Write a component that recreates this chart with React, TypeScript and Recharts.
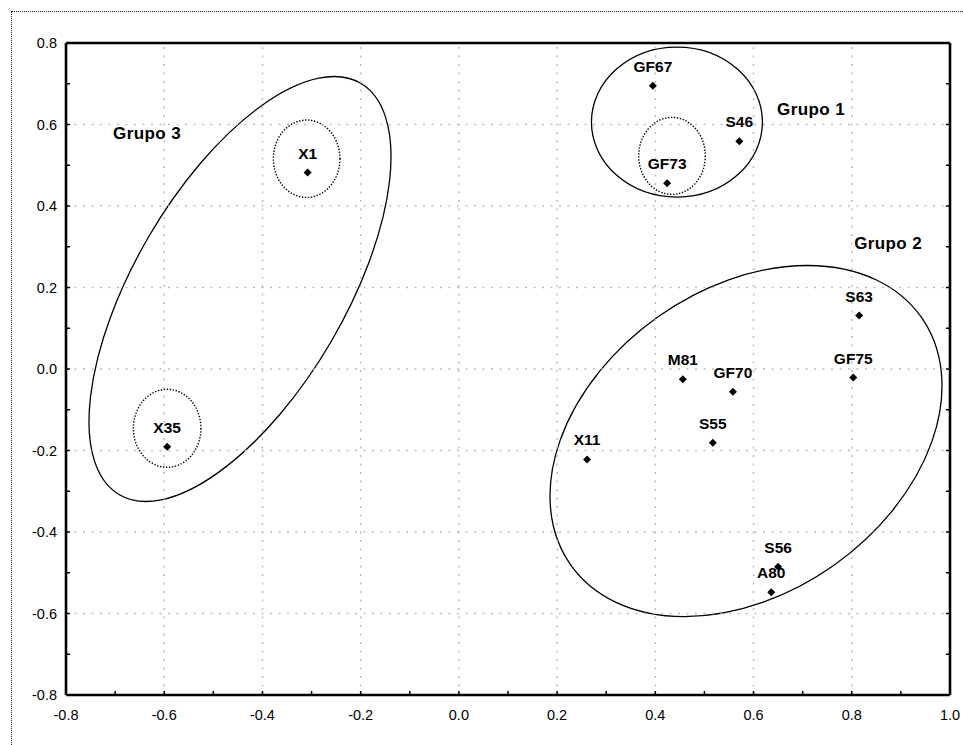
import React from 'react';
import { ScatterChart, Scatter, XAxis, YAxis, ReferenceLine, ReferenceArea, ReferenceDot } from 'recharts';

// Sample scores on the two factor axes
const sampleNames = ['GF67', 'S46', 'GF73', 'X1', 'X35', 'S63', 'GF75', 'M81', 'GF70', 'S55', 'X11', 'S56', 'A80'];
const sampleX = [0.395, 0.571, 0.424, -0.308, -0.594, 0.815, 0.803, 0.456, 0.558, 0.517, 0.261, 0.65, 0.636];
const sampleY = [0.695, 0.559, 0.456, 0.482, -0.191, 0.131, -0.021, -0.025, -0.056, -0.181, -0.222, -0.485, -0.548];

// Axis ticks (every 0.1, labelled every 0.2)
const xTicks = [-0.8, -0.7, -0.6, -0.5, -0.4, -0.3, -0.2, -0.1, 0, 0.1, 0.2, 0.3, 0.4, 0.5, 0.6, 0.7, 0.8, 0.9, 1.0];
const yTicks = [-0.8, -0.7, -0.6, -0.5, -0.4, -0.3, -0.2, -0.1, 0, 0.1, 0.2, 0.3, 0.4, 0.5, 0.6, 0.7, 0.8];
const xGrid = [-0.6, -0.4, -0.2, 0, 0.2, 0.4, 0.6, 0.8];
const yGrid = [-0.6, -0.4, -0.2, 0, 0.2, 0.4, 0.6];

// Group captions
const groupNames = ['Grupo 1', 'Grupo 2', 'Grupo 3'];
const groupX = [0.717, 0.874, -0.635];
const groupY = [0.636, 0.3085, 0.577];

// Outlines: centre, semi-axes before rotation (data units), rotation in degrees
const outlineCx = [0.444, 0.5846, -0.4457, 0.434, -0.31, -0.594];
const outlineCy = [0.606, -0.1767, 0.1963, 0.523, 0.516, -0.1455];
const outlineRx = [0.1741, 0.437, 0.4856, 0.0678, 0.0678, 0.0688];
const outlineRy = [0.184, 0.3735, 0.2582, 0.0945, 0.095, 0.0957];
const outlineAngle = [0, -35.3, -59.6, 0, 0, 0];
const outlineDotted = [false, false, false, true, true, true];

const points = sampleNames.map((name, i) => ({ name, x: sampleX[i], y: sampleY[i] }));

const FONT = '"Liberation Sans", Arial, Helvetica, sans-serif';
const fmt = (v: number) => {
  const k = Math.round(v * 10);
  if (k % 2 !== 0) return '';
  return (k / 10).toFixed(1);
};

const Marker = (props: any) => {
  const { cx, cy, payload } = props;
  if (cx == null || cy == null) return null;
  const r = 4;
  return (
    <g>
      <polygon points={`${cx},${cy - r} ${cx + r},${cy} ${cx},${cy + r} ${cx - r},${cy}`} fill="#000" />
      <text x={cx} y={cy - 14} textAnchor="middle" fontFamily={FONT} fontWeight="bold" fontSize={15.5} fill="#000">
        {payload.name}
      </text>
    </g>
  );
};

const makeOutline = (angle: number, dotted: boolean) => (props: any) => {
  const { x, y, width, height } = props;
  const cx = x + width / 2;
  const cy = y + height / 2;
  return (
    <ellipse
      cx={cx}
      cy={cy}
      rx={Math.abs(width) / 2}
      ry={Math.abs(height) / 2}
      transform={`rotate(${angle} ${cx} ${cy})`}
      fill="none"
      stroke="#000"
      strokeWidth={dotted ? 1.4 : 1.3}
      strokeDasharray={dotted ? '1.4 1.6' : undefined}
    />
  );
};

const makeCaption = (text: string) => (props: any) => (
  <text
    x={props.cx}
    y={props.cy}
    textAnchor="middle"
    dominantBaseline="central"
    fontFamily={FONT}
    fontWeight="bold"
    fontSize={17}
    letterSpacing={0.4}
    fill="#000"
  >
    {text}
  </text>
);

const NoLabel = () => <g />;

const tickStyle = { fontFamily: FONT, fontSize: 14.5, fill: '#000' };
const axisLine = { stroke: '#000', strokeWidth: 2.6 };
const tickLine = { stroke: '#000', strokeWidth: 1.5 };

export default function App() {
  return (
    <div style={{ position: 'absolute', left: 0, top: 0, width: 963, height: 745, overflow: 'hidden', background: '#fff' }}>
      <div
        style={{
          position: 'absolute',
          left: 11,
          top: 11,
          width: 970,
          height: 760,
          border: '1px dotted #222',
          boxSizing: 'border-box',
        }}
      />
      <div style={{ position: 'absolute', left: 0, top: 0 }}>
        <ScatterChart width={963} height={745} margin={{ top: 42, right: 12, bottom: 10, left: 16 }}>
          <XAxis
            type="number"
            dataKey="x"
            domain={[-0.8, 1.0]}
            ticks={xTicks}
            interval={0}
            allowDataOverflow
            height={40}
            tickSize={-4}
            tickMargin={19}
            tickFormatter={fmt}
            tick={tickStyle}
            axisLine={axisLine}
            tickLine={tickLine}
          />
          <XAxis
            xAxisId="top"
            orientation="top"
            type="number"
            domain={[-0.8, 1.0]}
            ticks={xTicks}
            interval={0}
            allowDataOverflow
            height={1}
            tickSize={-4}
            tick={<NoLabel />}
            axisLine={axisLine}
            tickLine={tickLine}
          />
          <YAxis
            type="number"
            dataKey="y"
            domain={[-0.8, 0.8]}
            ticks={yTicks}
            interval={0}
            allowDataOverflow
            width={50}
            tickSize={-4}
            tickMargin={13}
            tickFormatter={fmt}
            tick={tickStyle}
            axisLine={axisLine}
            tickLine={tickLine}
          />
          <YAxis
            yAxisId="right"
            orientation="right"
            type="number"
            domain={[-0.8, 0.8]}
            ticks={yTicks}
            interval={0}
            allowDataOverflow
            width={1}
            tickSize={-4}
            tick={<NoLabel />}
            axisLine={axisLine}
            tickLine={tickLine}
          />
          {xGrid.map((v) => (
            <ReferenceLine key={`gx${v}`} x={v} stroke="#bdbdbd" strokeWidth={1.5} strokeDasharray="2 6.5" />
          ))}
          {yGrid.map((v) => (
            <ReferenceLine key={`gy${v}`} y={v} stroke="#bdbdbd" strokeWidth={1.5} strokeDasharray="2 6.5" />
          ))}
          {outlineCx.map((cx, i) => (
            <ReferenceArea
              key={`o${i}`}
              x1={cx - outlineRx[i]}
              x2={cx + outlineRx[i]}
              y1={outlineCy[i] - outlineRy[i]}
              y2={outlineCy[i] + outlineRy[i]}
              ifOverflow="visible"
              shape={makeOutline(outlineAngle[i], outlineDotted[i])}
            />
          ))}
          {groupNames.map((g, i) => (
            <ReferenceDot
              key={g}
              x={groupX[i]}
              y={groupY[i]}
              r={0}
              ifOverflow="visible"
              shape={makeCaption(g)}
            />
          ))}
          <Scatter data={points} shape={<Marker />} isAnimationActive={false} />
        </ScatterChart>
      </div>
    </div>
  );
}
